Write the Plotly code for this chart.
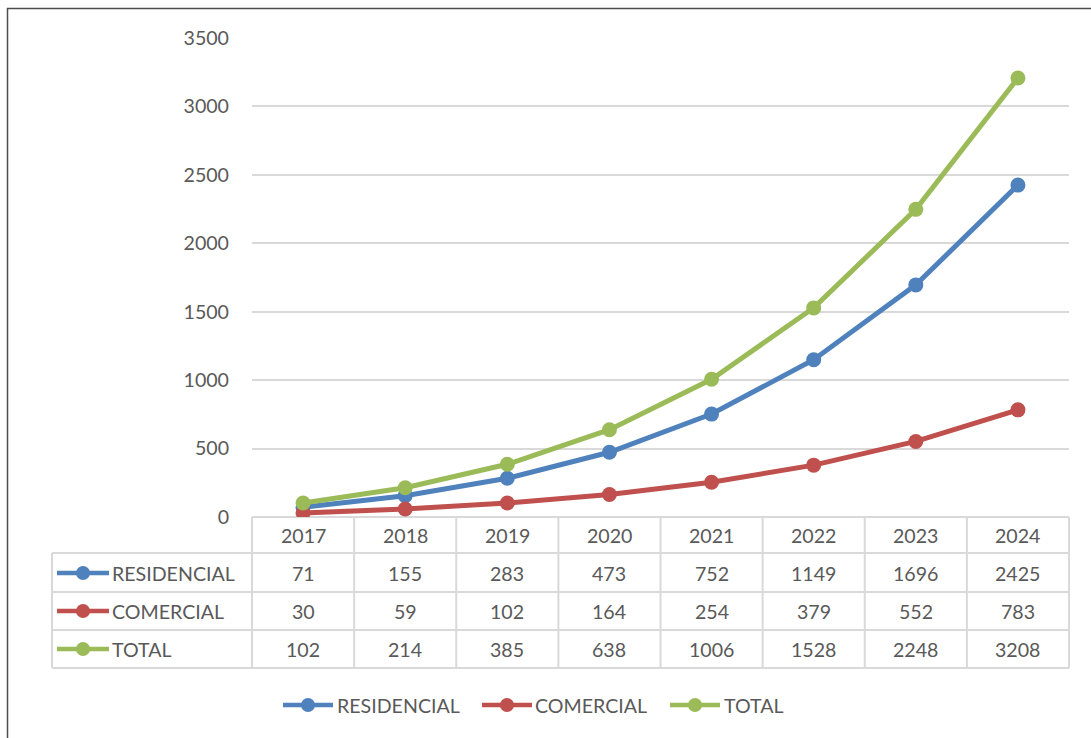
import plotly.graph_objects as go

# ---- data ----
years = ["2017", "2018", "2019", "2020", "2021", "2022", "2023", "2024"]
residencial = [71, 155, 283, 473, 752, 1149, 1696, 2425]
comercial = [30, 59, 102, 164, 254, 379, 552, 783]
total = [102, 214, 385, 638, 1006, 1528, 2248, 3208]
series_names = ["RESIDENCIAL", "COMERCIAL", "TOTAL"]
series_values = [residencial, comercial, total]
series_colors = ["#4F81BD", "#C0504D", "#9BBB59"]
y_ticks = [0, 500, 1000, 1500, 2000, 2500, 3000, 3500]

# ---- layout geometry (pixels) ----
W, H = 1091, 738
PLOT_L, PLOT_R = 252, 1069
PLOT_T, PLOT_B = 38, 517
TABLE_L = 52
ROW_LINES = [553, 592, 630, 668]
HEADER_Y = 535
ROW_Y = [573, 611, 649]
TXT = "#595959"
GRIDC = "#D9D9D9"
FONT = "Lato"
FS = 19.6


def px(x):
    return x / W


def py(y):
    return 1 - y / H


fig = go.Figure()
idx = list(range(len(years)))
for name, vals, col in zip(series_names, series_values, series_colors):
    fig.add_trace(go.Scatter(
        x=idx, y=vals, name=name, mode="lines+markers",
        line=dict(color=col, width=5),
        marker=dict(color=col, size=15),
        showlegend=False, hoverinfo="skip",
    ))

shapes = []
annotations = []

# outer border
shapes.append(dict(type="rect", xref="paper", yref="paper",
                   x0=px(7.5), x1=px(W + 20), y0=py(H + 20), y1=py(8.5),
                   line=dict(color="#4d4d4d", width=1.5), fillcolor="rgba(0,0,0,0)",
                   layer="below"))

# table horizontal lines
for yl in ROW_LINES:
    shapes.append(dict(type="line", xref="paper", yref="paper",
                       x0=px(TABLE_L), x1=px(PLOT_R), y0=py(yl), y1=py(yl),
                       line=dict(color=GRIDC, width=2)))
# table vertical lines at category boundaries
for i in range(len(years) + 1):
    shapes.append(dict(type="line", xref="x", yref="paper",
                       x0=i - 0.5, x1=i - 0.5, y0=py(ROW_LINES[-1]), y1=py(PLOT_B),
                       line=dict(color=GRIDC, width=2)))
shapes.append(dict(type="line", xref="paper", yref="paper",
                   x0=px(PLOT_L), x1=px(PLOT_L), y0=py(ROW_LINES[-1]), y1=py(PLOT_B),
                   line=dict(color=GRIDC, width=2)))
shapes.append(dict(type="line", xref="paper", yref="paper",
                   x0=px(PLOT_R), x1=px(PLOT_R), y0=py(ROW_LINES[-1]), y1=py(PLOT_B),
                   line=dict(color=GRIDC, width=2)))
shapes.append(dict(type="line", xref="paper", yref="paper",
                   x0=px(TABLE_L), x1=px(TABLE_L), y0=py(ROW_LINES[-1]), y1=py(ROW_LINES[0]),
                   line=dict(color=GRIDC, width=2)))

# header years
for i, yr in enumerate(years):
    annotations.append(dict(x=i, y=py(HEADER_Y), xref="x", yref="paper", text=yr,
                            showarrow=False, font=dict(family=FONT, size=FS, color=TXT),
                            xanchor="center", yanchor="middle"))


def key(cx, cy, col, half=26, r=7):
    shapes.append(dict(type="line", xref="paper", yref="paper",
                       x0=px(cx - half), x1=px(cx + half), y0=py(cy), y1=py(cy),
                       line=dict(color=col, width=4.5)))
    shapes.append(dict(type="circle", xref="paper", yref="paper",
                       x0=px(cx - r), x1=px(cx + r), y0=py(cy + r), y1=py(cy - r),
                       fillcolor=col, line=dict(color=col, width=0)))


# table rows
for name, vals, col, ry in zip(series_names, series_values, series_colors, ROW_Y):
    key(83, ry, col)
    annotations.append(dict(x=px(110), y=py(ry), xref="paper", yref="paper", text=name,
                            showarrow=False, font=dict(family=FONT, size=FS, color=TXT),
                            xanchor="left", yanchor="middle"))
    for i, v in enumerate(vals):
        annotations.append(dict(x=i, y=py(ry), xref="x", yref="paper", text=str(v),
                                showarrow=False, font=dict(family=FONT, size=FS, color=TXT),
                                xanchor="center", yanchor="middle"))

# bottom legend
LEG_Y = 705
leg_keys = [308, 507, 695]
leg_text = [335, 533, 722]
for name, col, kx, tx in zip(series_names, series_colors, leg_keys, leg_text):
    key(kx, LEG_Y, col, half=25)
    annotations.append(dict(x=px(tx), y=py(LEG_Y), xref="paper", yref="paper", text=name,
                            showarrow=False, font=dict(family=FONT, size=FS, color=TXT),
                            xanchor="left", yanchor="middle"))

fig.update_layout(
    width=W, height=H, autosize=False,
    margin=dict(l=0, r=0, t=0, b=0, pad=0, autoexpand=False),
    paper_bgcolor="white", plot_bgcolor="white",
    font=dict(family=FONT, size=FS, color=TXT),
    xaxis=dict(domain=[px(PLOT_L), px(PLOT_R)], range=[-0.5, len(years) - 0.5],
               showticklabels=False, showgrid=False, zeroline=False,
               showline=False, fixedrange=True, automargin=False),
    yaxis=dict(domain=[py(PLOT_B), py(PLOT_T)], range=[0, 3500],
               tickvals=y_ticks, ticktext=[str(t) for t in y_ticks],
               showgrid=True, gridcolor=GRIDC, gridwidth=2,
               zeroline=True, zerolinecolor=GRIDC, zerolinewidth=2,
               showline=False, ticks="", ticklabelstandoff=22, automargin=False,
               fixedrange=True,
               tickfont=dict(family=FONT, size=FS, color=TXT)),
    shapes=shapes,
    annotations=annotations,
    showlegend=False,
    hovermode=False,
)

fig.write_html("out.html", config={"displayModeBar": False},
               post_script="document.body.style.margin='0';document.body.style.padding='0';")
